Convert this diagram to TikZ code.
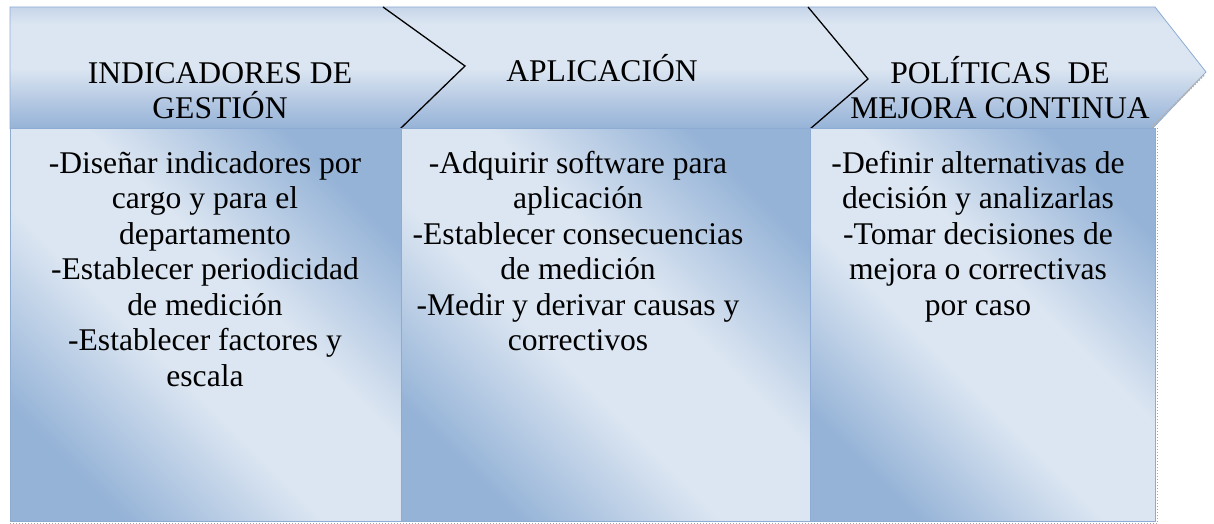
\documentclass[tikz,border=0pt]{standalone}
\usepackage{fontspec}
\setmainfont{Liberation Serif}
\definecolor{lt}{HTML}{DCE6F2}
\definecolor{dk}{HTML}{95B3D7}
\definecolor{edgeblue}{HTML}{8EABD3}
\definecolor{topblue}{HTML}{C6D5E9}
\definecolor{midblue}{HTML}{B3C7E2}
\pgfdeclarehorizontalshading{boxgrad}{100bp}{color(0bp)=(dk); color(25bp)=(dk); color(43bp)=(lt); color(57bp)=(lt); color(75bp)=(dk); color(100bp)=(dk)}
\pgfdeclareverticalshading{bandgrad}{100bp}{color(0bp)=(dk); color(25bp)=(dk); color(36bp)=(midblue); color(50bp)=(lt); color(68bp)=(lt); color(75bp)=(topblue); color(100bp)=(topblue)}
\newcommand{\txtfont}{\fontsize{31.6}{35.5}\selectfont}
\begin{document}
\begin{tikzpicture}[x=1pt,y=-1pt,
  bandshade/.style={shading=bandgrad, draw=edgeblue, line width=0.8pt},
  boxshade/.style={shading=boxgrad, shading angle=45, draw=edgeblue, line width=1pt},
  notch/.style={draw=black, line width=1.3pt},
  txt/.style={align=center, anchor=base, inner sep=0pt, font=\txtfont, text=black},
  ruled/.style={draw=gray!70, line width=0.6pt, dash pattern=on 1pt off 2pt}
]
\useasboundingbox (0,0) rectangle (1214,524);
% top band of chevrons
\path[bandshade] (10,7) -- (1155,7) -- (1206,72) -- (1152,129) -- (10,129) -- cycle;
\draw[draw=gray!60, line width=2pt, dash pattern=on 1.5pt off 1.5pt] (1152,127) -- (1205,74);
% notch lines
\coordinate (n1a) at (383,7); \coordinate (n1b) at (465,66); \coordinate (n1c) at (400,129);
\coordinate (n2a) at (808,7); \coordinate (n2b) at (868,79); \coordinate (n2c) at (810,129);
\draw[notch] (n1a) -- (n1b) -- (n1c);
\draw[notch] (n2a) -- (n2b) -- (n2c);
% lower boxes
\path[boxshade] (10,128) rectangle (401,521);
\path[boxshade] (401,128) rectangle (810,521);
\path[boxshade] (810,128) rectangle (1155,521);
\draw[ruled] (1157,128) -- (1157,522);
\draw[ruled] (10,523) -- (1157,523);
% headings (base anchor = baseline of the last line)
\node[txt] (h1) at (220,118.5) {INDICADORES DE\\GESTIÓN};
\node[txt] (h2) at (602,82) {APLICACIÓN};
\node[txt] (h3) at (1000,118.5) {POLÍTICAS~~DE\\MEJORA CONTINUA};
% bodies
\node[txt] (b1) at (205,386) {-Diseñar indicadores por\\cargo y para el\\departamento\\-Establecer periodicidad\\de medición\\-Establecer factores y\\escala};
\node[txt] (b2) at (578,350.5) {-Adquirir software para\\aplicación\\-Establecer consecuencias\\de medición\\-Medir y derivar causas y\\correctivos};
\node[txt] (b3) at (978,315) {-Definir alternativas de\\decisión y analizarlas\\-Tomar decisiones de\\mejora o correctivas\\por caso};
\end{tikzpicture}
\end{document}
